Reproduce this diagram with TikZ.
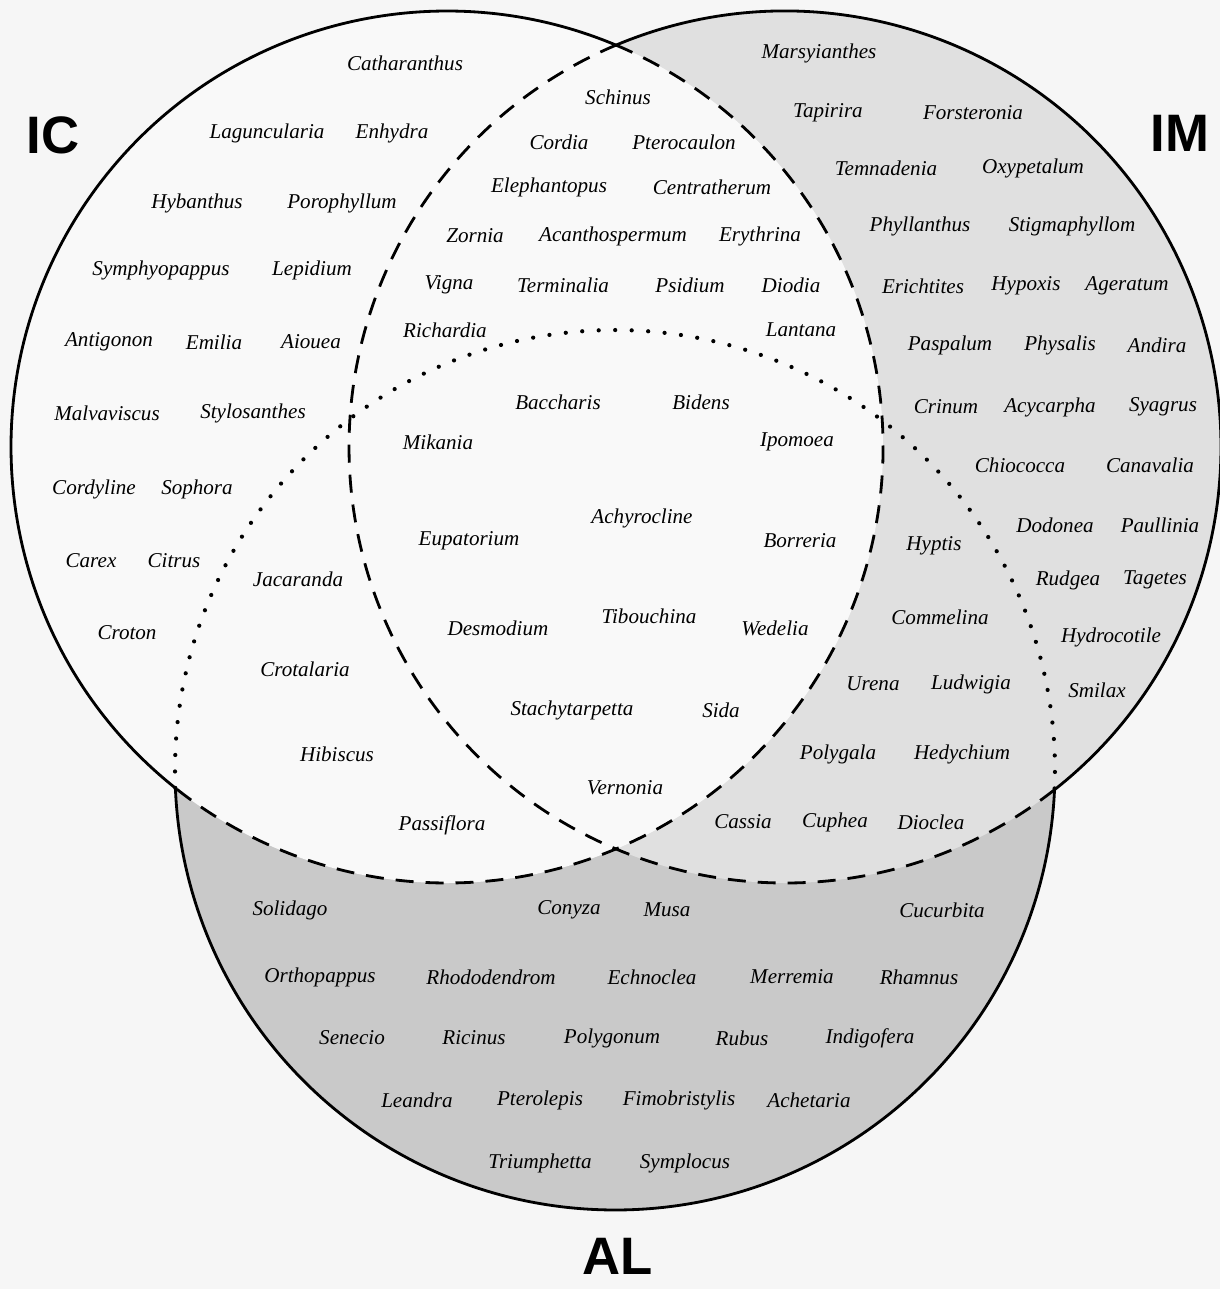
\documentclass[tikz,border=0pt]{standalone}
\usepackage{fontspec}
\setmainfont{Liberation Serif}
\newfontfamily\setfont{Liberation Sans}
\usepackage{tikz}
\usetikzlibrary{positioning}
\pgfdeclarelayer{background}
\pgfdeclarelayer{foreground}
\pgfsetlayers{background,main,foreground}

\definecolor{paper}{RGB}{246,246,246}
\definecolor{icwhite}{RGB}{249,249,249}
\definecolor{imgray}{RGB}{224,224,224}
\definecolor{algray}{RGB}{201,201,201}

\begin{document}
\begin{tikzpicture}[
			x=0.02cm, y=-0.02cm,
			genus/.style={font=\itshape\fontsize{12}{14}\selectfont, inner sep=0pt},
			setname/.style={font=\setfont\bfseries\fontsize{30}{32}\selectfont, inner sep=0pt},
			solidline/.style={draw=black, line width=1.6pt},
			dashline/.style={draw=black, line width=1.6pt, dash pattern=on 3.6mm off 2.4mm},
			dotline/.style={draw=black, line width=2.4pt, line cap=round, dash pattern=on 0pt off 3.3mm},
			]
			\useasboundingbox (0,0) rectangle (1220,1289);
			%Centres
			\coordinate (ic) at (447,447);
			\coordinate (im) at (785,447);
			\coordinate (al) at (615,770);
			
			\begin{pgfonlayer}{background}
			%Areas
			\fill[paper] (0,0) rectangle (1220,1289);
			\fill[algray] (al) circle[radius=440];
			\fill[imgray] (im) circle[radius=436];
			\fill[icwhite] (ic) circle[radius=436];
			%Lines
			\draw[solidline] (ic) ++(128.54:436) arc[start angle=128.54, end angle=292.80, radius=436];
			\draw[dashline] (ic) ++(-67.20:436) arc[start angle=-67.20, end angle=128.54, radius=436];
			\draw[solidline] (im) ++(-112.80:436) arc[start angle=-112.80, end angle=51.81, radius=436];
			\draw[dashline] (im) ++(51.81:436) arc[start angle=51.81, end angle=247.20, radius=436];
			\draw[solidline] (al) ++(2.57:440) arc[start angle=2.57, end angle=177.66, radius=440];
			\draw[dotline] (al) ++(177.66:440) arc[start angle=177.66, end angle=362.57, radius=440];
			\end{pgfonlayer}
			
			%Set names
			\node[setname] (icname) at (53,135) {IC};
			\node[setname] (imname) at (1180,133) {IM};
			\node[setname, anchor=base] (alname) at (618,1274) {AL};
			
			%Nodes IC
			\node[genus] (catharanthus)  at (405,63)  {Catharanthus};
			\node[genus] (laguncularia)  at (267,133) {Laguncularia};
			\node[genus] (enhydra)       at (392,133) {Enhydra};
			\node[genus] (hybanthus)     at (197,203) {Hybanthus};
			\node[genus] (porophyllum)   at (342,203) {Porophyllum};
			\node[genus] (symphyopappus) at (161,270) {Symphyopappus};
			\node[genus] (lepidium)      at (312,270) {Lepidium};
			\node[genus] (antigonon)     at (109,342) {Antigonon};
			\node[genus] (emilia)        at (214,342) {Emilia};
			\node[genus] (aiouea)        at (311,342) {Aiouea};
			\node[genus] (malvaviscus)   at (107,413) {Malvaviscus};
			\node[genus] (stylosanthes)  at (253,413) {Stylosanthes};
			\node[genus] (cordyline)     at (94,489)  {Cordyline};
			\node[genus] (sophora)       at (197,489) {Sophora};
			\node[genus] (carex)         at (91,561)  {Carex};
			\node[genus] (citrus)        at (174,561) {Citrus};
			\node[genus] (croton)        at (127,633) {Croton};
			
			%Nodes IC and AL
			\node[genus] (jacaranda)     at (298,579) {Jacaranda};
			\node[genus] (crotalaria)    at (305,669) {Crotalaria};
			\node[genus] (hibiscus)      at (337,754) {Hibiscus};
			\node[genus] (passiflora)    at (442,825) {Passiflora};
			
			%Nodes IC and IM
			\node[genus] (schinus)        at (618,97)  {Schinus};
			\node[genus] (cordia)         at (559,142) {Cordia};
			\node[genus] (pterocaulon)    at (684,142) {Pterocaulon};
			\node[genus] (elephantopus)   at (549,187) {Elephantopus};
			\node[genus] (centratherum)   at (712,187) {Centratherum};
			\node[genus] (zornia)         at (475,236) {Zornia};
			\node[genus] (acanthospermum) at (613,236) {Acanthospermum};
			\node[genus] (erythrina)      at (760,236) {Erythrina};
			\node[genus] (vigna)          at (449,285) {Vigna};
			\node[genus] (terminalia)     at (563,285) {Terminalia};
			\node[genus] (psidium)        at (690,285) {Psidium};
			\node[genus] (diodia)         at (791,285) {Diodia};
			\node[genus] (richardia)      at (445,330) {Richardia};
			\node[genus] (lantana)        at (801,330) {Lantana};
			
			%Nodes IC, IM and AL
			\node[genus] (baccharis)      at (558,402) {Baccharis};
			\node[genus] (bidens)         at (701,402) {Bidens};
			\node[genus] (mikania)        at (438,442) {Mikania};
			\node[genus] (ipomoea)        at (797,442) {Ipomoea};
			\node[genus] (achyrocline)    at (642,518) {Achyrocline};
			\node[genus] (eupatorium)     at (469,541) {Eupatorium};
			\node[genus] (borreria)       at (800,541) {Borreria};
			\node[genus] (desmodium)      at (498,628) {Desmodium};
			\node[genus] (tibouchina)     at (649,616) {Tibouchina};
			\node[genus] (wedelia)        at (775,628) {Wedelia};
			\node[genus] (stachytarpetta) at (572,710) {Stachytarpetta};
			\node[genus] (sida)           at (721,710) {Sida};
			\node[genus] (vernonia)       at (625,788) {Vernonia};
			
			%Nodes IM and AL
			\node[genus] (hyptis)         at (934,546) {Hyptis};
			\node[genus] (commelina)      at (940,617) {Commelina};
			\node[genus] (urena)          at (873,684) {Urena};
			\node[genus] (ludwigia)       at (971,684) {Ludwigia};
			\node[genus] (polygala)       at (838,754) {Polygala};
			\node[genus] (hedychium)      at (962,754) {Hedychium};
			\node[genus] (cassia)         at (743,822) {Cassia};
			\node[genus] (cuphea)         at (835,822) {Cuphea};
			\node[genus] (dioclea)        at (931,822) {Dioclea};
			
			%Nodes IM
			\node[genus] (marsyianthes)   at (819,53)   {Marsyianthes};
			\node[genus] (tapirira)       at (828,113)  {Tapirira};
			\node[genus] (forsteronia)    at (973,113)  {Forsteronia};
			\node[genus] (temnadenia)     at (886,168)  {Temnadenia};
			\node[genus] (oxypetalum)     at (1033,168) {Oxypetalum};
			\node[genus] (phyllanthus)    at (920,226)  {Phyllanthus};
			\node[genus] (stigmaphyllom)  at (1072,226) {Stigmaphyllom};
			\node[genus] (erichtites)     at (923,286)  {Erichtites};
			\node[genus] (hypoxis)        at (1026,286) {Hypoxis};
			\node[genus] (ageratum)       at (1127,286) {Ageratum};
			\node[genus] (paspalum)       at (950,345)  {Paspalum};
			\node[genus] (physalis)       at (1060,345) {Physalis};
			\node[genus] (andira)         at (1157,345) {Andira};
			\node[genus] (crinum)         at (946,407)  {Crinum};
			\node[genus] (acycarpha)      at (1050,407) {Acycarpha};
			\node[genus] (syagrus)        at (1163,407) {Syagrus};
			\node[genus] (chiococca)      at (1020,465) {Chiococca};
			\node[genus] (canavalia)      at (1150,465) {Canavalia};
			\node[genus] (dodonea)        at (1055,525) {Dodonea};
			\node[genus] (paullinia)      at (1160,525) {Paullinia};
			\node[genus] (rudgea)         at (1068,580) {Rudgea};
			\node[genus] (tagetes)        at (1155,580) {Tagetes};
			\node[genus] (hydrocotile)    at (1111,637) {Hydrocotile};
			\node[genus] (smilax)         at (1097,690) {Smilax};
			
			%Nodes AL
			\node[genus] (solidago)       at (290,910)  {Solidago};
			\node[genus] (conyza)         at (569,910)  {Conyza};
			\node[genus] (musa)           at (667,910)  {Musa};
			\node[genus] (cucurbita)      at (942,910)  {Cucurbita};
			\node[genus] (orthopappus)    at (320,977)  {Orthopappus};
			\node[genus] (rhododendrom)   at (491,977)  {Rhododendrom};
			\node[genus] (echnoclea)      at (652,977)  {Echnoclea};
			\node[genus] (merremia)       at (792,977)  {Merremia};
			\node[genus] (rhamnus)        at (919,977)  {Rhamnus};
			\node[genus] (senecio)        at (352,1038) {Senecio};
			\node[genus] (ricinus)        at (474,1038) {Ricinus};
			\node[genus] (polygonum)      at (612,1038) {Polygonum};
			\node[genus] (rubus)          at (742,1038) {Rubus};
			\node[genus] (indigofera)     at (870,1038) {Indigofera};
			\node[genus] (leandra)        at (417,1100) {Leandra};
			\node[genus] (pterolepis)     at (540,1100) {Pterolepis};
			\node[genus] (fimobristylis)  at (679,1100) {Fimobristylis};
			\node[genus] (achetaria)      at (809,1100) {Achetaria};
			\node[genus] (triumphetta)    at (540,1163) {Triumphetta};
			\node[genus] (symplocus)      at (685,1163) {Symplocus};
		\end{tikzpicture}
\end{document}
